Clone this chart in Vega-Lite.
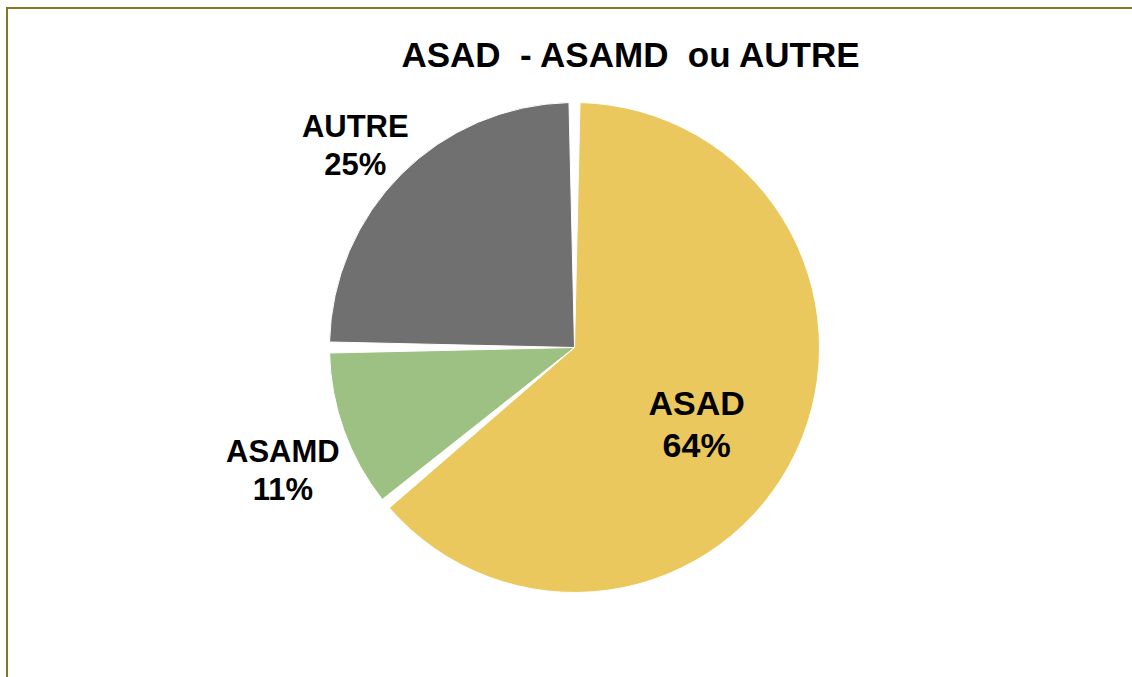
{
  "$schema": "https://vega.github.io/schema/vega-lite/v6.json",
  "width": 1132,
  "height": 677,
  "autosize": {"type": "fit", "contains": "padding"},
  "padding": {"top": 8, "left": 7, "right": -10, "bottom": -10},
  "background": "white",
  "view": {"stroke": "#857623", "strokeWidth": 2},
  "title": {
    "text": "ASAD\u00a0\u00a0- ASAMD\u00a0\u00a0ou AUTRE",
    "font": "Liberation Sans",
    "fontSize": 35,
    "fontWeight": "bold",
    "color": "#000000",
    "anchor": "middle",
    "offset": -66,
    "dx": 56
  },
  "data": {
    "values": [
      {"cat": "ASAD", "pct": 64, "ord": 1, "inner": "ASAD\n64%", "outer": ""},
      {"cat": "ASAMD", "pct": 11, "ord": 2, "inner": "", "outer": "ASAMD\n11%"},
      {"cat": "AUTRE", "pct": 25, "ord": 3, "inner": "", "outer": "AUTRE\n25%"}
    ]
  },
  "encoding": {
    "theta": {"field": "pct", "type": "quantitative", "stack": true},
    "order": {"field": "ord", "type": "quantitative"},
    "color": {
      "field": "cat",
      "type": "nominal",
      "scale": {"domain": ["ASAD", "ASAMD", "AUTRE"], "range": ["#EBC85E", "#9DC183", "#707070"]},
      "legend": null
    }
  },
  "layer": [
    {
      "mark": {"type": "arc", "outerRadius": 245, "padAngle": 0.045, "stroke": "#ffffff", "strokeWidth": 1}
    },
    {
      "mark": {"type": "text", "radius": 135, "font": "Liberation Sans", "fontSize": 34, "fontWeight": "bold", "lineBreak": "\n", "lineHeight": 42},
      "encoding": {"text": {"field": "inner"}, "color": {"value": "#000000"}}
    },
    {
      "mark": {"type": "text", "radius": 310, "font": "Liberation Sans", "fontSize": 31, "fontWeight": "bold", "lineBreak": "\n", "lineHeight": 38},
      "encoding": {"text": {"field": "outer"}, "color": {"value": "#000000"}}
    }
  ]
}
